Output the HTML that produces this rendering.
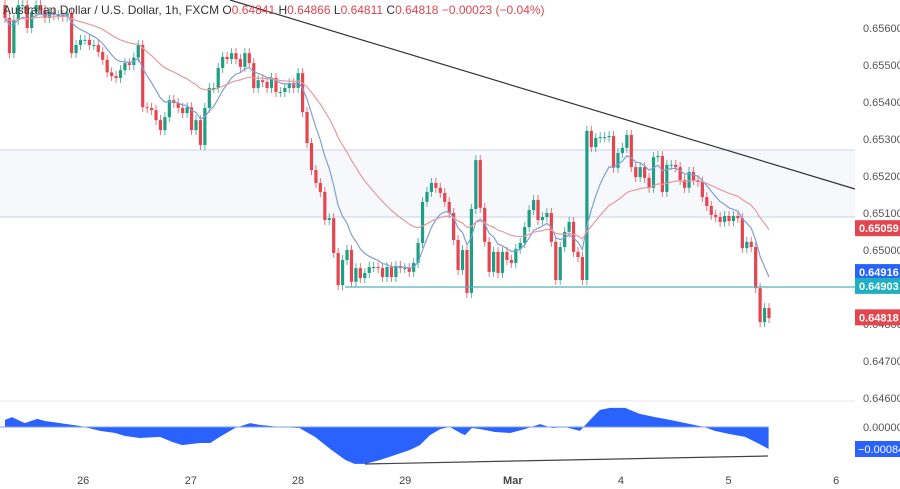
<!DOCTYPE html>
<html><head><meta charset="utf-8"><style>
html,body{margin:0;padding:0;background:#fff;width:900px;height:489px;overflow:hidden}
svg{display:block;font-family:"Liberation Sans",sans-serif}
</style></head><body>
<svg id="chart" width="900" height="489" viewBox="0 0 900 489" xmlns="http://www.w3.org/2000/svg">
<rect x="0" y="0" width="900" height="489" fill="#ffffff"/>
<rect x="0" y="150" width="855" height="67" fill="#f6f8fc"/>
<line x1="0" y1="150" x2="855" y2="150" stroke="#c9d2e3" stroke-width="1"/>
<line x1="0" y1="217" x2="855" y2="217" stroke="#c9d2e3" stroke-width="1"/>
<line x1="0" y1="401" x2="855" y2="401" stroke="#e6e6e6" stroke-width="1"/>
<g id="candles"></g>
<g id="mas"></g>
<line x1="345" y1="287" x2="855" y2="287" stroke="#4fb3b3" stroke-width="1.3"/>
<line x1="230" y1="0" x2="855" y2="189" stroke="#333" stroke-width="1.2"/>
<g id="osc"></g>
<line x1="365" y1="464" x2="768" y2="456" stroke="#444" stroke-width="1.2"/>
<g id="yaxis"></g>
<g id="xaxis"></g>
<text x="3" y="14" font-size="12" fill="#333">Australian Dollar / U.S. Dollar, 1h, FXCM <tspan fill="#333">O</tspan><tspan fill="#e04550">0.64841</tspan> <tspan fill="#333">H</tspan><tspan fill="#e04550">0.64866</tspan> <tspan fill="#333">L</tspan><tspan fill="#e04550">0.64811</tspan> <tspan fill="#333">C</tspan><tspan fill="#e04550">0.64818 −0.00023 (−0.04%)</tspan></text>
</svg>
<script>
const closes = [65627,65532,65622,65662,65662,65600,65643,65662,65649,65627,65643,65635,65635,65630,65640,65532,65554,65568,65568,65554,65554,65535,65514,65480,65470,65465,65486,65505,65500,65520,65554,65386,65384,65378,65351,65324,65359,65405,65397,65384,65370,
65386,65324,65351,65284,65384,65438,65438,65492,65522,65516,65532,65516,65495,65532,65505,65438,65459,65454,65438,65465,65427,65427,65438,65451,65438,65478,65373,65289,65216,65181,65157,65081,65086,64992,64905,64973,65000,64914,64951,64924,64938,64954,64954,64951,64927,
64954,64927,64957,64951,64951,64941,64965,65019,65130,65157,65181,65168,65154,65130,65100,65027,64946,65000,64884,65111,65243,65114,65022,64941,64995,64938,64995,64973,64965,65003,65019,65062,65108,65135,65081,65089,65100,65022,64919,65008,65049,65076,64995,64981,64919,65322,65278,65303,
65305,65305,65308,65222,65262,65276,65311,65224,65197,65224,65195,65168,65251,65254,65157,65230,65230,65224,65189,65168,65211,65189,65184,65143,65119,65095,65089,65076,65092,65078,65092,65086,65005,65022,65008,64897,64805,64843,64816];
const firstOpen = 65662;
const oscIdx = [0,1.5,4.3,7,8.7,12,16.3,20.7,24,26,29.3,33.7,36.3,38.5,42.4,44.6,46.7,50,53.3,55.4,59.8,64,67.4,70.7,74,76,78.3,81.5,84.8,88,90.2,92.4,94.6,96.7,99,100,101.5,103.3,106.5,109.8,113,116.3,119,121.7,125,127.2,129.3,131.5,134.8,138,141.3,144.6,149,152,154.3,157.6,160.9,164,166];
const oscVal = [27,38,15,31,23,15,4,-15,-23,-34,-42,-38,-57,-69,-61,-61,-38,-4,15,8,0,-4,-38,-84,-126,-141,-141,-126,-107,-88,-69,-31,-8,0,-23,-31,-4,-8,-19,-23,-8,11,-4,0,-15,27,65,73,73,50,38,27,11,0,-15,-27,-38,-65,-84];
const priceTicks = [0.656,0.655,0.654,0.653,0.652,0.651,0.650,0.649,0.648,0.647,0.646];
const dateLabels = ["26","27","28","29","Mar","4","5","6"];
const dateIdx = [17,40.4,63.7,87,110.4,133.9,157.3,180.7];

const NS="http://www.w3.org/2000/svg";
const N = closes.length;
const xOf = i => 5 + i*(764/(N-1));
const xDate = i => 5 + i*4.6;
const yOf = p => 28 + (0.656 - p)*37000;
const yOsc = v => 427 - v*0.2618;
function mk(tag, attrs, parent){const e=document.createElementNS(NS,tag);for(const k in attrs)e.setAttribute(k,attrs[k]);parent.appendChild(e);return e;}

const cg=document.getElementById('candles');
closes.forEach((c,i)=>{
  const o = i===0?firstOpen:closes[i-1];
  const po=o/1e5, pc=c/1e5;
  const up=pc>=po, col=up?'#1e9f84':'#e5454f';
  const x=xOf(i);
  const yt=yOf(Math.max(po,pc)), yb=yOf(Math.min(po,pc));
  const w=mk('line',{x1:x,x2:x,y1:yt-5,y2:yb+5,stroke:col,'stroke-width':1,opacity:0.75},cg);
  
  
  const b=mk('rect',{x:x-1.6,y:yt,width:3.2,height:Math.max(1,yb-yt),fill:col},cg);
  
  
});

function ema(n){const k=2/(n+1);let e=closes[0];return closes.map(c=>(e=c*k+e*(1-k)));}
const mg=document.getElementById('mas');
[[ema(9),'#7f9fd6','fast-ma-line'],[ema(30),'#e49a9f','slow-ma-line']].forEach(([arr,col,name])=>{
  const d=arr.map((v,i)=>(i?'L':'M')+xOf(i).toFixed(1)+','+yOf(v/1e5).toFixed(1)).join('');
  const p=mk('path',{d:d,fill:'none',stroke:col,'stroke-width':1.2},mg);
  
  
});

const og=document.getElementById('osc');
let d='M'+xDate(oscIdx[0])+','+yOsc(0);
oscIdx.forEach((ix,k)=>{d+='L'+xDate(ix).toFixed(1)+','+yOsc(oscVal[k]).toFixed(1);});
d+='L'+xDate(oscIdx[oscIdx.length-1])+','+yOsc(0)+'Z';
const area=mk('path',{d:d,fill:'#2962ff'},og);


const zl=mk('line',{x1:0,x2:xDate(oscIdx[oscIdx.length-1]),y1:yOsc(0),y2:yOsc(0),stroke:'#7da0f5','stroke-width':1},og);



const ya=document.getElementById('yaxis');
priceTicks.forEach(p=>{
  const t=mk('text',{x:863,y:yOf(p)+4,'font-size':11,fill:'#555'},ya);
  t.textContent=p.toFixed(5);
  
  
});
const zt=mk('text',{x:863,y:431,'font-size':11,fill:'#555'},ya);
zt.textContent='0.00000';


[[0.65059,'#e5454f','ma-slow-price-tag',0],[0.64916,'#2962ff','ma-fast-price-tag',-9],[0.64903,'#1fb0c0','support-price-tag',0],[0.64818,'#e5454f','last-price-tag',0]].forEach(([p,col,name,off])=>{
  const y=yOf(p)+off;
  const r=mk('rect',{x:855,y:y-8,width:45,height:16,fill:col},ya);
  
  
  const t=mk('text',{x:859,y:y+4,'font-size':11,'font-weight':'bold',fill:'#fff'},ya);
  t.textContent=p.toFixed(5);
  
  
});
const oy=yOsc(oscVal[oscVal.length-1]);
const orr=mk('rect',{x:855,y:oy-8,width:45,height:16,fill:'#2962ff'},ya);


const ot=mk('text',{x:858,y:oy+4,'font-size':11,fill:'#fff'},ya);
ot.textContent='−0.00084';



const xa=document.getElementById('xaxis');
dateLabels.forEach((lab,k)=>{
  const t=mk('text',{x:xDate(dateIdx[k]),y:484,'font-size':11,fill:'#444','text-anchor':'middle','font-weight':lab==='Mar'?'bold':'normal'},xa);
  t.textContent=lab;
  
  
});
</script>
</body></html>
